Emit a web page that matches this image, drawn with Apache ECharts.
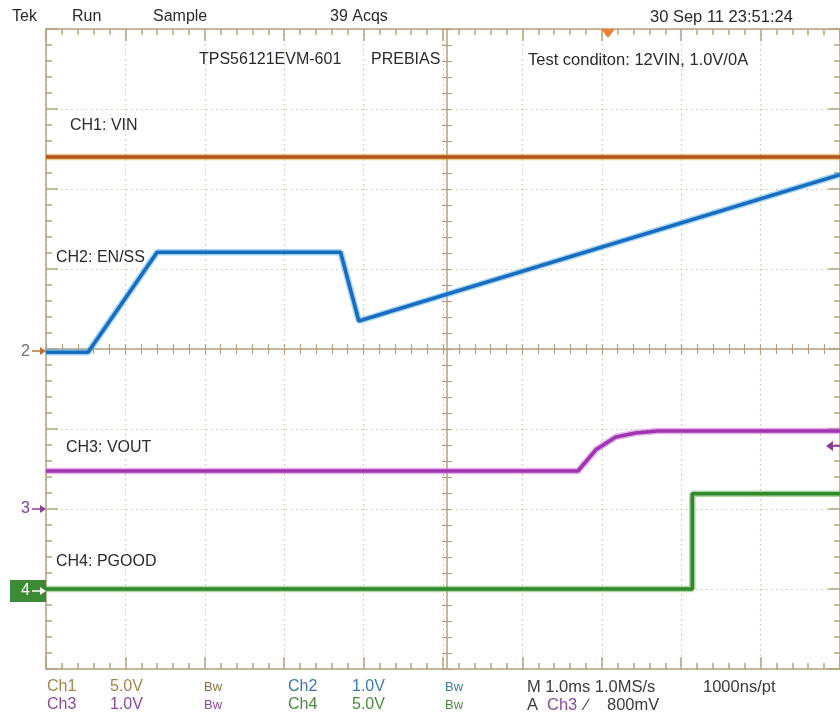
<!DOCTYPE html>
<html><head><meta charset="utf-8">
<script src="https://cdn.jsdelivr.net/npm/echarts@6/dist/echarts.min.js"></script>
<style>html,body{margin:0;padding:0;background:#fff}#c{width:840px;height:713px}</style>
</head><body><div id="c"></div>
<script>
// Values in screen divisions (x: 0..10 divisions of 1.0 ms, y: 0..8 divisions from bottom)
const ch1 = [[0, 6.40], [10, 6.40]];
const ch2 = [[0, 3.96], [0.53, 3.96], [1.40, 5.21], [3.71, 5.21], [3.94, 4.35], [10, 6.18]];
const ch3 = [[0, 2.475], [6.70, 2.475], [6.925, 2.74], [7.175, 2.90], [7.425, 2.95], [7.70, 2.975], [10, 2.975]];
const ch4 = [[0, 1.00], [8.14, 1.00], [8.14, 2.19], [10, 2.19]];

const FRAME = '#b3a27f';
const DOT = '#cfc3ab';
const FONT = 'Liberation Sans, Arial, sans-serif';

const chart = echarts.init(document.getElementById('c'), null, {renderer: 'canvas'});

const lineOn = {show: true, onZero: false, lineStyle: {color: FRAME, width: 1.5}};
const lineOff = {show: false, onZero: false, lineStyle: {opacity: 0, width: 0}};

function xAx(opts) {
  return Object.assign({
    type: 'value', min: 0, max: 10, interval: 1, gridIndex: 0,
    axisLabel: {show: false}, splitLine: {show: false},
    axisLine: lineOn,
    axisTick: {show: true, inside: true, length: 12, lineStyle: {color: FRAME, width: 1.5}},
    minorTick: {show: true, splitNumber: 5, length: 6, lineStyle: {color: FRAME, width: 1.5}}
  }, opts);
}
function yAx(opts) {
  return Object.assign({
    type: 'value', min: 0, max: 8, interval: 1, gridIndex: 0,
    axisLabel: {show: false}, splitLine: {show: false},
    axisLine: lineOn,
    axisTick: {show: true, inside: true, length: 12, lineStyle: {color: FRAME, width: 1.5}},
    minorTick: {show: true, splitNumber: 5, length: 6, lineStyle: {color: FRAME, width: 1.5}}
  }, opts);
}
const dotted = {show: true, lineStyle: {color: DOT, width: 1.2, type: [1.5, 3.5]}};
const noTick = {show: false};
const crossTick = {show: true, inside: true, length: 10, lineStyle: {color: FRAME, width: 1.2}};
const crossMinor = {show: true, splitNumber: 5, length: 10, lineStyle: {color: FRAME, width: 1.2}};

function trace(data, color, halo, z) {
  return [
    {type: 'line', data: data, xAxisIndex: 0, yAxisIndex: 0, showSymbol: false, silent: true,
     lineStyle: {color: halo, width: 6.5, opacity: 0.55}, z: z},
    {type: 'line', data: data, xAxisIndex: 0, yAxisIndex: 0, showSymbol: false, silent: true,
     lineStyle: {color: color, width: 3.6}, z: z + 1}
  ];
}

function txt(x, y, s, color, size, extra) {
  return Object.assign({type: 'text', x: x, y: y, z: 100,
    style: {text: s, fill: color || '#2a2a2a', font: (size || 16) + 'px ' + FONT, textVerticalAlign: 'middle'}}, extra || {});
}

const option = {
  animation: false,
  backgroundColor: '#ffffff',
  grid: {left: 46, top: 29, width: 802, height: 640, containLabel: false},
  xAxis: [
    xAx({position: 'bottom', splitLine: dotted}),
    xAx({position: 'top'}),
    xAx({position: 'bottom', offset: -320, axisTick: noTick, minorTick: noTick}),
    xAx({position: 'bottom', offset: -315, axisLine: lineOff, axisTick: crossTick, minorTick: crossMinor})
  ],
  yAxis: [
    yAx({position: 'left', splitLine: dotted}),
    yAx({position: 'right'}),
    yAx({position: 'left', offset: -401, axisTick: noTick, minorTick: noTick}),
    yAx({position: 'left', offset: -396, axisLine: lineOff, axisTick: crossTick, minorTick: crossMinor})
  ],
  series: [].concat(
    trace(ch1, '#b0561c', '#d8a030', 10),
    trace(ch2, '#1a6cc0', '#5ab4e8', 12),
    trace(ch3, '#a234b4', '#c77ad4', 14),
    trace(ch4, '#2e8a2a', '#6cb45a', 16)
  ),
  graphic: [
    // header
    txt(12, 17, 'Tek', '#2a2a2a', 16),
    txt(72, 17, 'Run', '#2a2a2a', 16),
    txt(153, 17, 'Sample', '#2a2a2a', 16),
    txt(330, 17, '39 Acqs', '#2a2a2a', 16),
    txt(650, 17, '30 Sep 11 23:51:24', '#2a2a2a', 16.5),
    // trigger position marker
    {type: 'polygon', z: 100, shape: {points: [[601, 29], [615, 29], [608, 38]]}, style: {fill: '#f08030'}},
    // annotations
    txt(199, 60, 'TPS56121EVM-601', '#2a2a2a', 16),
    txt(371, 60, 'PREBIAS', '#2a2a2a', 16),
    txt(528, 60, 'Test conditon: 12VIN, 1.0V/0A', '#2a2a2a', 16.5),
    txt(70, 126, 'CH1: VIN', '#2a2a2a', 16),
    txt(56, 258, 'CH2: EN/SS', '#2a2a2a', 16),
    txt(66, 448, 'CH3: VOUT', '#2a2a2a', 16),
    txt(56, 562, 'CH4: PGOOD', '#2a2a2a', 16),
    // channel ground markers
    txt(21, 352, '2', '#707070', 16),
    {type: 'polyline', z: 100, shape: {points: [[32, 351], [44, 351]]}, style: {stroke: '#c07030', lineWidth: 1.5}},
    {type: 'polygon', z: 100, shape: {points: [[40, 347], [46, 351], [40, 355]]}, style: {fill: '#c07030'}},
    txt(21, 509, '3', '#8a3c9a', 16),
    {type: 'polyline', z: 100, shape: {points: [[32, 509], [44, 509]]}, style: {stroke: '#8a3c9a', lineWidth: 1.5}},
    {type: 'polygon', z: 100, shape: {points: [[40, 505], [46, 509], [40, 513]]}, style: {fill: '#8a3c9a'}},
    {type: 'rect', z: 99, shape: {x: 10, y: 580, width: 36, height: 22}, style: {fill: '#3c8a34'}},
    txt(21, 591, '4', '#ffffff', 16),
    {type: 'polyline', z: 100, shape: {points: [[32, 591], [44, 591]]}, style: {stroke: '#ffffff', lineWidth: 1.5}},
    {type: 'polygon', z: 100, shape: {points: [[40, 587], [46, 591], [40, 595]]}, style: {fill: '#ffffff'}},
    // trigger level arrow (right)
    {type: 'polyline', z: 100, shape: {points: [[828, 446], [840, 446]]}, style: {stroke: '#8a3c9a', lineWidth: 1.8}},
    {type: 'polygon', z: 100, shape: {points: [[833, 441], [826, 446], [833, 451]]}, style: {fill: '#8a3c9a'}},
    // bottom readout
    txt(47, 687, 'Ch1', '#a3844a', 16),
    txt(110, 687, '5.0V', '#a3844a', 16),
    txt(204, 687, 'Bw', '#8e6e3a', 13),
    txt(288, 687, 'Ch2', '#3f77aa', 16),
    txt(352, 687, '1.0V', '#3f77aa', 16),
    txt(445, 687, 'Bw', '#3f77aa', 13),
    txt(527, 687, 'M 1.0ms 1.0MS/s', '#3a3a3a', 16.5),
    txt(703, 687, '1000ns/pt', '#3a3a3a', 16.5),
    txt(47, 705, 'Ch3', '#8a4a9a', 16),
    txt(110, 705, '1.0V', '#8a4a9a', 16),
    txt(204, 705, 'Bw', '#8a4a9a', 13),
    txt(288, 705, 'Ch4', '#4a8a3e', 16),
    txt(352, 705, '5.0V', '#4a8a3e', 16),
    txt(445, 705, 'Bw', '#4a8a3e', 13),
    txt(527, 705, 'A', '#3a3a3a', 16.5),
    txt(547, 705, 'Ch3', '#8a4a9a', 16.5),
    txt(585, 705, '\u2215', '#3a3a3a', 16.5),
    txt(607, 705, '800mV', '#3a3a3a', 16.5)
  ]
};
chart.setOption(option);
</script>
</body></html>
